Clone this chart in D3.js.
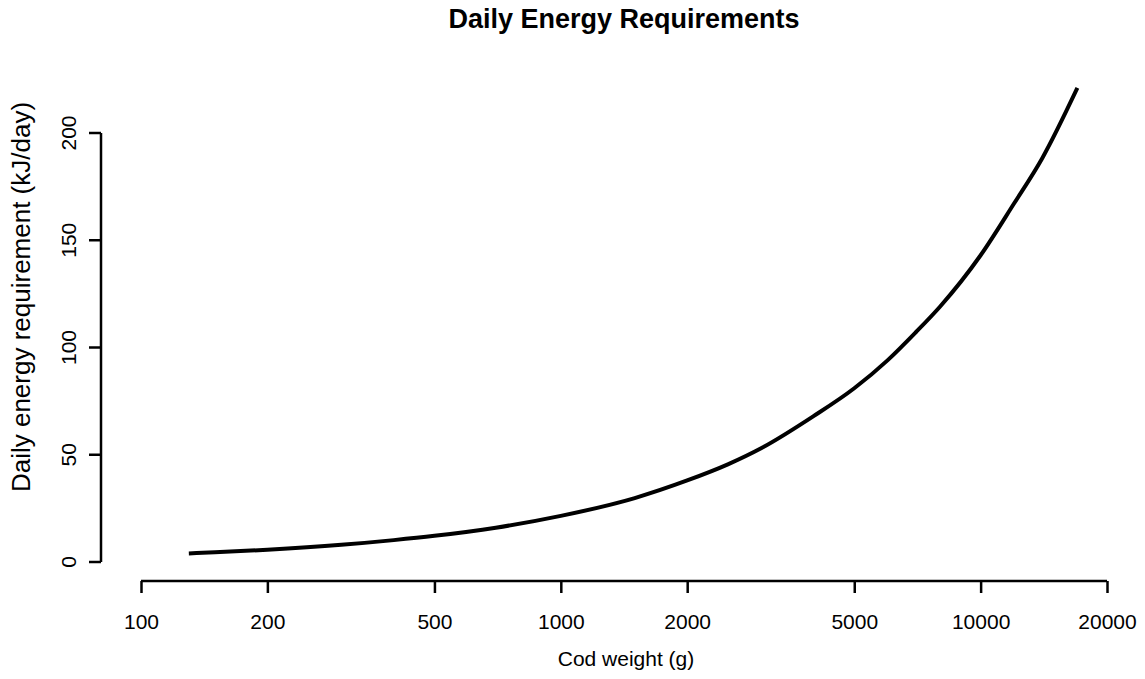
<!DOCTYPE html>
<html lang="en">
  <head>
    <meta charset="utf-8">
    <title>Daily Energy Requirements</title>
    <style type="text/css">
    body { margin: 0; background: #fff; }
    text { font-family: "Liberation Sans", Arial, sans-serif; fill: #000; }
    .axis path, .axis line { stroke: #000; stroke-width: 2.5; }
    </style>
  </head>
  <body>
    <script src="https://cdn.jsdelivr.net/npm/d3@7"></script>
    <div id="chart"></div>
    <script type="text/javascript">

    // 図から読み取った値
    var weights = [130, 150, 200, 300, 400, 500, 700, 1000, 1500, 2000, 2500,
                   3000, 4000, 5000, 6000, 7000, 8000, 10000, 12000, 14000, 17000];
    var energy  = [4.0, 4.5, 5.7, 8.0, 10.2, 12.2, 16, 21.5, 29.8, 38, 45.5,
                   53, 68, 81, 94, 107, 119, 143, 167, 188, 221];
    var xTicks = [100, 200, 500, 1000, 2000, 5000, 10000, 20000];
    var yTicks = [0, 50, 100, 150, 200];

    var width = 1145,
        height = 679;

    var svg = d3.select("#chart")
        .append("svg")
        .attr("width", width)
        .attr("height", height);

    // x は対数軸
    var x = d3.scaleLog()
        .domain([100, 20000])
        .range([141, 1107]);

    var y = d3.scaleLinear()
        .domain([0, 200])
        .range([562, 133]);

    // x 軸
    var xAxis = svg.append("g")
        .attr("class", "axis")
        .attr("transform", "translate(0,581)")
        .call(d3.axisBottom(x).tickValues(xTicks).tickFormat(d3.format("d"))
          .tickSizeInner(12).tickSizeOuter(0).tickPadding(21));
    xAxis.select(".domain").attr("d", "M" + x(100) + ",0H" + x(20000));
    xAxis.selectAll("text").style("font-size", "21px");

    // y 軸 (R と同じくラベルは回転)
    var yAxis = svg.append("g")
        .attr("class", "axis")
        .attr("transform", "translate(101,0)")
        .call(d3.axisLeft(y).tickValues(yTicks)
          .tickSizeInner(12).tickSizeOuter(0).tickPadding(0));
    yAxis.select(".domain").attr("d", "M0," + y(0) + "V" + y(200));
    yAxis.selectAll("text")
        .style("font-size", "21px")
        .attr("text-anchor", "middle")
        .attr("dy", null)
        .attr("x", null)
        .attr("transform", function(d) { return "translate(-25," + y(d) + ") rotate(-90)"; })
        .attr("y", 0);
    yAxis.selectAll(".tick").attr("transform", null);
    yAxis.selectAll(".tick line").attr("transform", function(d) { return "translate(0," + y(d) + ")"; });

    // 曲線
    var line = d3.line()
        .x(function(d, i) { return x(weights[i]); })
        .y(function(d) { return y(d); })
        .curve(d3.curveMonotoneX);

    svg.append("path")
        .datum(energy)
        .attr("fill", "none")
        .attr("stroke", "#000")
        .attr("stroke-width", 4)
        .attr("d", line);

    // タイトルと軸ラベル
    svg.append("text")
        .attr("x", 624)
        .attr("y", 28)
        .attr("text-anchor", "middle")
        .style("font-size", "27px")
        .style("font-weight", "bold")
        .text("Daily Energy Requirements");

    svg.append("text")
        .attr("x", 626)
        .attr("y", 666)
        .attr("text-anchor", "middle")
        .style("font-size", "21px")
        .text("Cod weight (g)");

    svg.append("text")
        .attr("transform", "translate(30,297) rotate(-90)")
        .attr("text-anchor", "middle")
        .style("font-size", "26px")
        .text("Daily energy requirement (kJ/day)");

    </script>
  </body>
</html>
